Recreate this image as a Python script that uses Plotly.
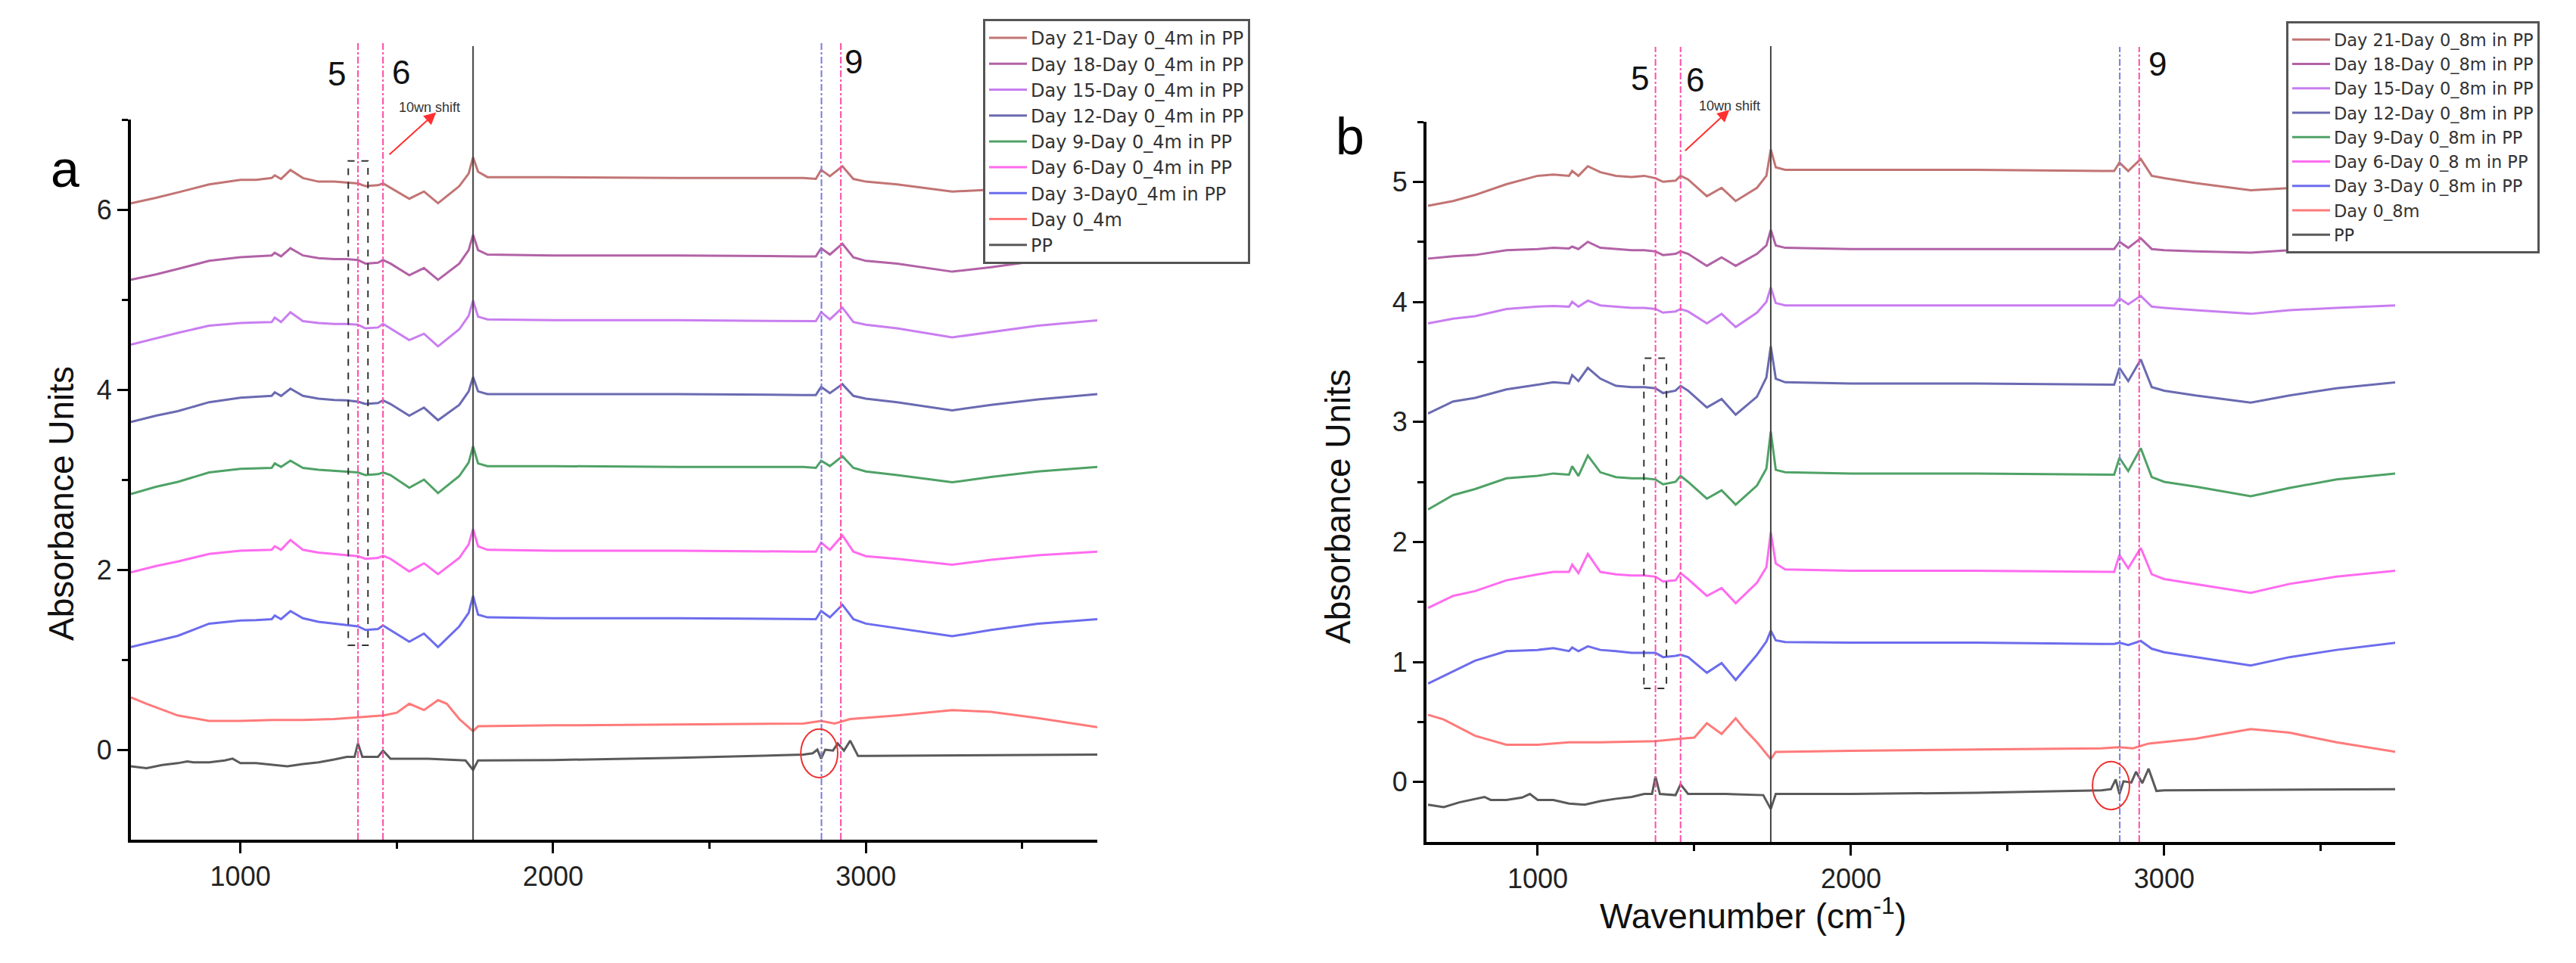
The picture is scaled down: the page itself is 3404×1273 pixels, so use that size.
import plotly.graph_objects as go

# ---------------- data ----------------
WN_DAY = [650, 730, 800, 900, 1000, 1050, 1100, 1110, 1130, 1160, 1200, 1250, 1300, 1340, 1376,
          1400, 1440, 1456, 1480, 1540, 1587, 1632, 1700, 1730, 1744, 1760, 1790, 2000, 2400, 2800,
          2840, 2857, 2885, 2925, 2960, 3000, 3100, 3276, 3400, 3550, 3740]
WN_D0 = [650, 700, 800, 900, 1000, 1100, 1200, 1300, 1376, 1456, 1500, 1540, 1587, 1632, 1660,
         1700, 1744, 1760, 2000, 2400, 2800, 2857, 2900, 2950, 3100, 3276, 3400, 3550, 3740]
WN_PP = [650, 700, 750, 800, 830, 850, 900, 950, 975, 1000, 1050, 1100, 1150, 1200, 1250, 1300,
         1340, 1365, 1376, 1390, 1440, 1456, 1480, 1600, 1720, 1744, 1760, 2000, 2400, 2800, 2830,
         2845, 2857, 2870, 2895, 2910, 2930, 2950, 2975, 3000, 3400, 3740]

# panel a (4m)
A_D21 = [6.07, 6.13, 6.19, 6.28, 6.33, 6.33, 6.35, 6.38, 6.34, 6.44, 6.35, 6.31, 6.31, 6.30, 6.29,
         6.26, 6.27, 6.29, 6.24, 6.12, 6.20, 6.07, 6.26, 6.40, 6.58, 6.42, 6.36, 6.36, 6.35, 6.35,
         6.34, 6.44, 6.37, 6.48, 6.34, 6.31, 6.28, 6.20, 6.22, 6.26, 6.30]
A_D18 = [5.22, 5.28, 5.34, 5.43, 5.47, 5.48, 5.49, 5.52, 5.48, 5.57, 5.49, 5.46, 5.45, 5.45, 5.44,
         5.40, 5.41, 5.44, 5.40, 5.27, 5.35, 5.22, 5.40, 5.55, 5.72, 5.55, 5.50, 5.49, 5.49, 5.48,
         5.48, 5.57, 5.50, 5.62, 5.47, 5.43, 5.40, 5.31, 5.36, 5.43, 5.49]
A_D15 = [4.50, 4.57, 4.63, 4.71, 4.74, 4.745, 4.75, 4.80, 4.75, 4.86, 4.76, 4.74, 4.73, 4.73, 4.72,
         4.68, 4.69, 4.73, 4.68, 4.55, 4.62, 4.48, 4.67, 4.82, 4.99, 4.81, 4.78, 4.77, 4.77, 4.76,
         4.76, 4.86, 4.78, 4.91, 4.75, 4.72, 4.68, 4.58, 4.64, 4.71, 4.77]
A_D12 = [3.64, 3.71, 3.76, 3.86, 3.91, 3.92, 3.93, 3.97, 3.93, 4.01, 3.93, 3.90, 3.885, 3.88, 3.865,
         3.84, 3.85, 3.88, 3.84, 3.71, 3.80, 3.66, 3.83, 3.98, 4.14, 3.98, 3.95, 3.95, 3.95, 3.94,
         3.94, 4.03, 3.96, 4.06, 3.93, 3.90, 3.86, 3.77, 3.83, 3.89, 3.95]
A_D9 = [2.84, 2.92, 2.975, 3.08, 3.12, 3.125, 3.13, 3.18, 3.14, 3.21, 3.13, 3.11, 3.10, 3.09, 3.08,
        3.05, 3.06, 3.08, 3.05, 2.91, 3.00, 2.85, 3.04, 3.19, 3.37, 3.18, 3.15, 3.15, 3.14, 3.14,
        3.13, 3.21, 3.15, 3.26, 3.13, 3.09, 3.05, 2.97, 3.03, 3.09, 3.14]
A_D6 = [1.97, 2.04, 2.09, 2.175, 2.21, 2.215, 2.22, 2.26, 2.22, 2.33, 2.22, 2.19, 2.175, 2.165, 2.15,
        2.12, 2.13, 2.155, 2.12, 1.98, 2.07, 1.95, 2.13, 2.28, 2.45, 2.26, 2.22, 2.21, 2.21, 2.20,
        2.20, 2.30, 2.22, 2.38, 2.20, 2.15, 2.12, 2.055, 2.11, 2.16, 2.20]
A_D3 = [1.14, 1.21, 1.265, 1.40, 1.435, 1.44, 1.45, 1.49, 1.45, 1.54, 1.46, 1.42, 1.40, 1.39, 1.37,
        1.33, 1.34, 1.38, 1.33, 1.20, 1.29, 1.14, 1.37, 1.52, 1.71, 1.50, 1.47, 1.46, 1.46, 1.45,
        1.45, 1.54, 1.47, 1.61, 1.45, 1.40, 1.35, 1.26, 1.33, 1.40, 1.45]
A_D0 = [0.58, 0.51, 0.38, 0.32, 0.32, 0.33, 0.33, 0.34, 0.36, 0.38, 0.41, 0.51, 0.44, 0.55, 0.51,
        0.34, 0.205, 0.26, 0.27, 0.28, 0.29, 0.32, 0.29, 0.34, 0.38, 0.44, 0.42, 0.35, 0.25]
A_PP = [-0.185, -0.205, -0.17, -0.15, -0.13, -0.14, -0.14, -0.12, -0.10, -0.15, -0.15, -0.17, -0.185,
        -0.16, -0.14, -0.11, -0.08, -0.08, 0.07, -0.08, -0.08, -0.01, -0.10, -0.10, -0.12, -0.225,
        -0.12, -0.115, -0.09, -0.055, -0.04, 0.0, -0.10, 0.0, -0.01, 0.07, -0.01, 0.10, -0.07, -0.07,
        -0.06, -0.055]

# panel b (8m)
B_D21 = [4.80, 4.84, 4.89, 4.98, 5.05, 5.06, 5.05, 5.09, 5.05, 5.13, 5.08, 5.05, 5.04, 5.05, 5.03,
         5.00, 5.01, 5.05, 5.02, 4.88, 4.95, 4.84, 4.95, 5.05, 5.27, 5.12, 5.10, 5.10, 5.10, 5.09,
         5.09, 5.16, 5.09, 5.19, 5.05, 5.03, 4.99, 4.93, 4.95, 4.97, 4.99]
B_D18 = [4.36, 4.38, 4.39, 4.43, 4.44, 4.45, 4.445, 4.46, 4.44, 4.50, 4.45, 4.44, 4.43, 4.43, 4.42,
         4.39, 4.40, 4.42, 4.40, 4.30, 4.37, 4.30, 4.40, 4.47, 4.60, 4.47, 4.45, 4.44, 4.44, 4.44,
         4.44, 4.50, 4.45, 4.53, 4.44, 4.43, 4.42, 4.41, 4.43, 4.44, 4.44]
B_D15 = [3.82, 3.86, 3.88, 3.94, 3.96, 3.965, 3.96, 4.00, 3.96, 4.01, 3.97, 3.96, 3.95, 3.95, 3.94,
         3.91, 3.92, 3.94, 3.92, 3.82, 3.90, 3.79, 3.91, 4.00, 4.12, 3.99, 3.97, 3.97, 3.97, 3.97,
         3.97, 4.03, 3.98, 4.05, 3.96, 3.95, 3.93, 3.90, 3.93, 3.95, 3.97]
B_D12 = [3.07, 3.17, 3.20, 3.27, 3.31, 3.33, 3.32, 3.39, 3.34, 3.45, 3.36, 3.30, 3.29, 3.29, 3.28,
         3.24, 3.26, 3.30, 3.26, 3.12, 3.19, 3.06, 3.21, 3.37, 3.63, 3.36, 3.33, 3.32, 3.32, 3.31,
         3.31, 3.45, 3.34, 3.52, 3.29, 3.26, 3.22, 3.16, 3.22, 3.28, 3.33]
B_D9 = [2.27, 2.39, 2.44, 2.53, 2.55, 2.57, 2.56, 2.63, 2.55, 2.72, 2.58, 2.54, 2.53, 2.53, 2.52,
        2.48, 2.50, 2.55, 2.50, 2.36, 2.43, 2.31, 2.47, 2.61, 2.92, 2.60, 2.58, 2.57, 2.57, 2.56,
        2.56, 2.70, 2.59, 2.78, 2.54, 2.50, 2.46, 2.38, 2.45, 2.52, 2.57]
B_D6 = [1.45, 1.55, 1.59, 1.68, 1.73, 1.75, 1.75, 1.81, 1.74, 1.90, 1.75, 1.73, 1.72, 1.72, 1.71,
        1.67, 1.68, 1.74, 1.69, 1.55, 1.615, 1.49, 1.66, 1.79, 2.08, 1.82, 1.77, 1.76, 1.76, 1.75,
        1.75, 1.89, 1.78, 1.95, 1.73, 1.69, 1.65, 1.575, 1.65, 1.71, 1.76]
B_D3 = [0.82, 0.92, 1.01, 1.09, 1.10, 1.115, 1.09, 1.12, 1.09, 1.13, 1.10, 1.09, 1.075, 1.075, 1.075,
        1.04, 1.05, 1.06, 1.04, 0.91, 0.99, 0.85, 1.06, 1.17, 1.26, 1.18, 1.165, 1.16, 1.16, 1.15,
        1.15, 1.16, 1.14, 1.175, 1.11, 1.08, 1.04, 0.97, 1.04, 1.10, 1.16]
B_D0 = [0.56, 0.52, 0.385, 0.31, 0.31, 0.33, 0.33, 0.335, 0.34, 0.36, 0.37, 0.49, 0.40, 0.53, 0.44,
        0.33, 0.19, 0.25, 0.26, 0.27, 0.28, 0.29, 0.28, 0.32, 0.36, 0.44, 0.41, 0.33, 0.25]
B_PP = [-0.19, -0.21, -0.17, -0.14, -0.125, -0.15, -0.15, -0.13, -0.10, -0.15, -0.15, -0.18, -0.19,
        -0.16, -0.14, -0.125, -0.10, -0.10, 0.045, -0.10, -0.11, -0.02, -0.10, -0.10, -0.11, -0.225,
        -0.10, -0.10, -0.09, -0.07, -0.06, 0.02, -0.10, 0.005, -0.005, 0.085, -0.01, 0.11, -0.075,
        -0.07, -0.065, -0.06]

NAMES_A = ["Day 21-Day 0_4m in PP", "Day 18-Day 0_4m in PP", "Day 15-Day 0_4m in PP",
           "Day 12-Day 0_4m in PP", "Day 9-Day 0_4m in PP", "Day 6-Day 0_4m in PP",
           "Day 3-Day0_4m in PP", "Day 0_4m", "PP"]
NAMES_B = ["Day 21-Day 0_8m in PP", "Day 18-Day 0_8m in PP", "Day 15-Day 0_8m in PP",
           "Day 12-Day 0_8m in PP", "Day 9-Day 0_8m in PP", "Day 6-Day 0_8 m in PP",
           "Day 3-Day 0_8m in PP", "Day 0_8m", "PP"]
COLORS = ["#C27474", "#B262A6", "#C97EF0", "#6A6AB2", "#4FA266", "#FF6BEF", "#6C6CEE", "#FF7A7A", "#5A5A5A"]

# annotation positions (wavenumbers)
PEAK_LINES = [1376, 1456, 2858, 2920]   # dashed marker lines (5, 6, 9)
CO_LINE = 1744                           # solid line
TICKS_X = [1000, 2000, 3000]
MINOR_X = [1500, 2500, 3500]

FONT = "Liberation Sans, Arial, sans-serif"
LEG_FONT = "DejaVu Sans, Liberation Sans, sans-serif"
W, H = 3404, 1273

fig = go.Figure()

SERIES_A = [(WN_DAY, A_D21), (WN_DAY, A_D18), (WN_DAY, A_D15), (WN_DAY, A_D12), (WN_DAY, A_D9),
            (WN_DAY, A_D6), (WN_DAY, A_D3), (WN_D0, A_D0), (WN_PP, A_PP)]
SERIES_B = [(WN_DAY, B_D21), (WN_DAY, B_D18), (WN_DAY, B_D15), (WN_DAY, B_D12), (WN_DAY, B_D9),
            (WN_DAY, B_D6), (WN_DAY, B_D3), (WN_D0, B_D0), (WN_PP, B_PP)]

for (xs, ys), name, col in zip(SERIES_A, NAMES_A, COLORS):
    fig.add_trace(go.Scatter(x=xs, y=ys, mode="lines", name=name, line=dict(color=col, width=3),
                             xaxis="x", yaxis="y", legend="legend"))
for (xs, ys), name, col in zip(SERIES_B, NAMES_B, COLORS):
    fig.add_trace(go.Scatter(x=xs, y=ys, mode="lines", name=name, line=dict(color=col, width=3),
                             xaxis="x2", yaxis="y2", legend="legend2"))

def xax(domain, rng):
    return dict(domain=domain, range=rng, showline=True, linecolor="black", linewidth=4,
                ticks="outside", ticklen=14, tickwidth=3, tickcolor="black",
                tickvals=TICKS_X, minor=dict(tickvals=MINOR_X, ticks="outside", ticklen=8,
                                             tickwidth=3, tickcolor="black"),
                showgrid=False, zeroline=False, tickfont=dict(size=36, color="#222", family=FONT))

def yax(domain, rng, tv, mv, anchor):
    return dict(domain=domain, range=rng, showline=True, linecolor="black", linewidth=4,
                ticks="outside", ticklen=14, tickwidth=3, tickcolor="black", anchor=anchor,
                tickvals=tv, minor=dict(tickvals=mv, ticks="outside", ticklen=8, tickwidth=3,
                                        tickcolor="black"),
                showgrid=False, zeroline=False, tickfont=dict(size=36, color="#222", family=FONT))

XD_A = [165 / W, 1442 / W]
YD_A = [1 - 1102 / H, 1 - 150 / H]
XD_B = [1877 / W, 3157 / W]
YD_B = [1 - 1105 / H, 1 - 153 / H]

fig.update_layout(
    width=W, height=H, margin=dict(l=0, r=0, t=0, b=0),
    paper_bgcolor="white", plot_bgcolor="white",
    font=dict(family=FONT, color="#222"),
    xaxis=dict(xax(XD_A, [650, 3740]), anchor="y"),
    yaxis=yax(YD_A, [-1, 7], [0, 2, 4, 6], [1, 3, 5, 7], "x"),
    xaxis2=dict(xax(XD_B, [645, 3737]), anchor="y2"),
    yaxis2=yax(YD_B, [-0.5, 5.5], [0, 1, 2, 3, 4, 5], [0.5, 1.5, 2.5, 3.5, 4.5, 5.5], "x2"),
    legend=dict(x=1291 / W, y=1 - 17 / H, xanchor="left", yanchor="top", bgcolor="white",
                bordercolor="#555", borderwidth=3, font=dict(size=24, color="#333", family=LEG_FONT),
                tracegroupgap=0, itemwidth=50),
    legend2=dict(x=3013 / W, y=1 - 20 / H, xanchor="left", yanchor="top", bgcolor="white",
                 bordercolor="#555", borderwidth=3, font=dict(size=22.5, color="#333", family=LEG_FONT),
                 tracegroupgap=0, itemwidth=50),
    showlegend=True,
)

shapes = []
anns = []

def panel_marks(xr, yr, ydom, top_pink, top_black, rect, ell, arrow, shift_txt, lbl_pos):
    pink = "#FF4FA8"
    blue = "#7B7BDD"
    for i, wn in enumerate(PEAK_LINES):
        col = blue if i == 2 else pink
        shapes.append(dict(type="line", xref=xr, yref="paper", x0=wn, x1=wn, y0=ydom[0], y1=top_pink,
                           line=dict(color=col, width=2, dash="dashdot"), layer="above"))
    shapes.append(dict(type="line", xref=xr, yref="paper", x0=CO_LINE, x1=CO_LINE, y0=ydom[0],
                       y1=top_black, line=dict(color="#444", width=2), layer="above"))
    shapes.append(dict(type="rect", xref=xr, yref=yr, x0=rect[0], x1=rect[1], y0=rect[2], y1=rect[3],
                       line=dict(color="#333", width=2, dash="dash")))
    shapes.append(dict(type="circle", xref=xr, yref=yr, x0=ell[0] - ell[2], x1=ell[0] + ell[2],
                       y0=ell[1] - ell[3], y1=ell[1] + ell[3], line=dict(color="#EE3030", width=2)))
    anns.append(dict(xref=xr, yref=yr, axref=xr, ayref=yr, x=arrow[2], y=arrow[3], ax=arrow[0],
                     ay=arrow[1], text="", showarrow=True, arrowhead=2, arrowsize=1.6, arrowwidth=2,
                     arrowcolor="#FF3030"))
    anns.append(dict(xref=xr, yref="paper", x=shift_txt[0], y=shift_txt[1], text="10wn shift",
                     showarrow=False, font=dict(size=18, color="#333", family=FONT)))
    for t, (lx, ly) in zip(["5", "6", "9"], lbl_pos):
        anns.append(dict(xref=xr, yref="paper", x=lx, y=ly, text=t, showarrow=False,
                         font=dict(size=44, color="#111", family=FONT)))

panel_marks("x", "y", YD_A, 1 - 46 / H, 1 - 53 / H,
            rect=(1345, 1408, 1.16, 6.54), ell=(2851, -0.04, 59, 0.27),
            arrow=(1473, 6.6, 1626, 7.08), shift_txt=(1605, 1 - 122 / H),
            lbl_pos=[(1309, 1 - 63 / H), (1514, 1 - 61 / H), (2962, 1 - 47 / H)])
panel_marks("x2", "y2", YD_B, 1 - 54 / H, 1 - 53 / H,
            rect=(1339, 1411, 0.78, 3.53), ell=(2830, -0.03, 59, 0.2),
            arrow=(1467, 5.25, 1612, 5.6), shift_txt=(1612, 1 - 120 / H),
            lbl_pos=[(1326, 1 - 69 / H), (1502, 1 - 71 / H), (2979, 1 - 50 / H)])

# panel letters and axis titles
anns.append(dict(xref="paper", yref="paper", x=57 / W, y=1 - 175 / H, text="a", showarrow=False,
                 font=dict(size=68, color="black", family=FONT)))
anns.append(dict(xref="paper", yref="paper", x=1776 / W, y=1 - 132 / H, text="b", showarrow=False,
                 font=dict(size=68, color="black", family=FONT)))
anns.append(dict(xref="paper", yref="paper", x=45 / W, y=1 - 658 / H, text="Absorbance Units",
                 textangle=-90, showarrow=False, font=dict(size=46, color="#111", family=FONT)))
anns.append(dict(xref="paper", yref="paper", x=1760 / W, y=1 - 661 / H, text="Absorbance Units",
                 textangle=-90, showarrow=False, font=dict(size=46, color="#111", family=FONT)))
anns.append(dict(xref="paper", yref="paper", x=2513 / W, y=1 - 1231 / H,
                 text="Wavenumber (cm<sup>-1</sup>)", showarrow=False,
                 font=dict(size=46, color="#111", family=FONT)))

fig.update_layout(shapes=shapes, annotations=anns)
fig.write_html("out.html")
